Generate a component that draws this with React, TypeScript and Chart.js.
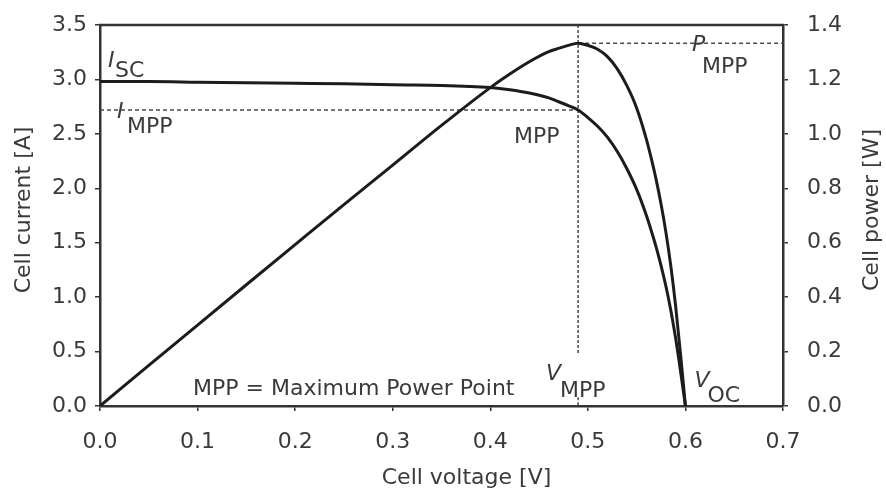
import React, { useEffect, useRef } from "react";
import { Chart, registerables } from "chart.js";

Chart.register(...registerables);

// Cell voltage [V]
const voltage = [0, 0.05, 0.1, 0.15, 0.2, 0.25, 0.3, 0.35, 0.4, 0.42, 0.44, 0.46, 0.47, 0.48, 0.49, 0.5, 0.51, 0.52, 0.53, 0.54, 0.55, 0.56, 0.565, 0.57, 0.575, 0.58, 0.585, 0.59, 0.595, 0.6];
// Cell current [A]
const current = [2.98, 2.98, 2.975, 2.97, 2.965, 2.96, 2.95, 2.945, 2.925, 2.905, 2.875, 2.83, 2.795, 2.76, 2.72, 2.65, 2.57, 2.47, 2.34, 2.18, 1.99, 1.75, 1.61, 1.46, 1.29, 1.1, 0.88, 0.62, 0.32, 0.0];
// Cell power [W]
const power = [0, 0.149, 0.2975, 0.4455, 0.593, 0.74, 0.885, 1.031, 1.17, 1.22, 1.265, 1.302, 1.314, 1.325, 1.333, 1.325, 1.311, 1.284, 1.24, 1.177, 1.095, 0.98, 0.91, 0.832, 0.742, 0.638, 0.515, 0.366, 0.19, 0.0];

// Characteristic points
const vMpp = 0.49;
const iMpp = 2.72;
const pMpp = 1.333;
const iSc = 2.98;
const vOc = 0.6;

const xTicks = [0, 0.1, 0.2, 0.3, 0.4, 0.5, 0.6, 0.7];
const yTicks = [0, 0.5, 1.0, 1.5, 2.0, 2.5, 3.0, 3.5];
const y1Ticks = [0, 0.2, 0.4, 0.6, 0.8, 1.0, 1.2, 1.4];

const FONT = "DejaVu Sans";
const TEXT = "#3a3a3a";
const LINE = "#1c1c1c";

function txt(ctx: CanvasRenderingContext2D, s: string, x: number, y: number, italic = false) {
  ctx.font = `${italic ? "italic " : ""}22px "${FONT}"`;
  ctx.fillText(s, x, y);
}

const annotPlugin = {
  id: "annot",
  beforeDatasetsDraw(chart: any) {
    const { ctx, chartArea, scales } = chart;
    const xs = scales.x, ys = scales.y, y1 = scales.y1;
    const xm = xs.getPixelForValue(vMpp);
    const yi = ys.getPixelForValue(iMpp);
    const yp = y1.getPixelForValue(pMpp);
    ctx.save();
    ctx.strokeStyle = "#4a4a4a";
    ctx.lineWidth = 1.5;
    ctx.setLineDash([4, 3]);
    ctx.beginPath();
    ctx.moveTo(chartArea.left, yi);
    ctx.lineTo(xm, yi);
    ctx.moveTo(xm, yp);
    ctx.lineTo(chartArea.right, yp);
    ctx.stroke();
    ctx.setLineDash([3, 2]);
    ctx.beginPath();
    ctx.moveTo(xm, chartArea.top);
    ctx.lineTo(xm, ys.getPixelForValue(0.47));
    ctx.moveTo(xm, ys.getPixelForValue(0.08));
    ctx.lineTo(xm, chartArea.bottom);
    ctx.stroke();
    ctx.restore();
  },
  afterDraw(chart: any) {
    const { ctx, chartArea, scales } = chart;
    const xs = scales.x, ys = scales.y, y1 = scales.y1;
    const L = chartArea.left, R = chartArea.right, T = chartArea.top, B = chartArea.bottom;
    const xm = xs.getPixelForValue(vMpp);
    const yi = ys.getPixelForValue(iMpp);
    const yp = y1.getPixelForValue(pMpp);
    const ysc = ys.getPixelForValue(iSc);
    const xoc = xs.getPixelForValue(vOc);
    ctx.save();
    // top frame line
    ctx.strokeStyle = "#333";
    ctx.lineWidth = 2.5;
    ctx.beginPath();
    ctx.moveTo(L - 1, T);
    ctx.lineTo(R + 1, T);
    ctx.stroke();

    ctx.fillStyle = TEXT;
    ctx.textAlign = "left";
    ctx.textBaseline = "alphabetic";
    // I_SC
    txt(ctx, "I", L + 8, ysc - 15, true);
    txt(ctx, "SC", L + 15, ysc - 5);
    // I_MPP
    txt(ctx, "I", L + 17, yi + 8, true);
    txt(ctx, "MPP", L + 27, yi + 23);
    // MPP
    txt(ctx, "MPP", xm - 64, yi + 33);
    // P_MPP
    txt(ctx, "P", R - 91, yp + 8, true);
    txt(ctx, "MPP", R - 81, yp + 30);
    // V_MPP
    txt(ctx, "V", xm - 32, B - 26, true);
    txt(ctx, "MPP", xm - 18, B - 9);
    // V_OC
    txt(ctx, "V", xoc + 9, B - 19, true);
    txt(ctx, "OC", xoc + 22, B - 4);
    // legend note
    txt(ctx, "MPP = Maximum Power Point", L + 93, B - 11);

    // axis titles
    ctx.font = `22px "${FONT}"`;
    ctx.textAlign = "center";
    ctx.textBaseline = "middle";
    ctx.fillText("Cell voltage [V]", (L + R) / 2 + 25, 478);
    ctx.save();
    ctx.translate(24, 210);
    ctx.rotate(-Math.PI / 2);
    ctx.fillText("Cell current [A]", 0, 0);
    ctx.restore();
    ctx.save();
    ctx.translate(872, 210);
    ctx.rotate(-Math.PI / 2);
    ctx.fillText("Cell power [W]", 0, 0);
    ctx.restore();
    ctx.restore();
  },
};

export default function App() {
  const ref = useRef<HTMLCanvasElement | null>(null);
  useEffect(() => {
    if (!ref.current) return;
    const tickFont = { family: FONT, size: 22 };
    const border = { color: "#333", width: 2.5 };
    const grid = { drawOnChartArea: false, drawTicks: true, tickLength: 5, color: "#333", lineWidth: 1.5 };
    const chart = new Chart(ref.current, {
      type: "line",
      data: {
        datasets: [
          {
            label: "Cell current",
            data: voltage.map((v, i) => ({ x: v, y: current[i] })),
            yAxisID: "y",
            borderColor: LINE,
            borderWidth: 3,
            pointRadius: 0,
            cubicInterpolationMode: "monotone",
            fill: false,
          },
          {
            label: "Cell power",
            data: voltage.map((v, i) => ({ x: v, y: power[i] })),
            yAxisID: "y1",
            borderColor: LINE,
            borderWidth: 3,
            pointRadius: 0,
            cubicInterpolationMode: "monotone",
            fill: false,
          },
        ],
      },
      options: {
        animation: false,
        responsive: false,
        devicePixelRatio: 1,
        layout: { padding: { top: 25, left: 0, right: 0, bottom: 0 } },
        plugins: { legend: { display: false }, tooltip: { enabled: false } },
        scales: {
          x: {
            type: "linear",
            min: 0,
            max: 0.7,
            border,
            grid,
            afterBuildTicks: (s: any) => { s.ticks = xTicks.map((v) => ({ value: v })); },
            afterFit: (s: any) => { s.height = 84; s.paddingLeft = 0; s.paddingRight = 0; },
            ticks: { font: tickFont, color: TEXT, padding: 18, maxRotation: 0, callback: (v: any) => Number(v).toFixed(1) },
          },
          y: {
            type: "linear",
            position: "left",
            min: 0,
            max: 3.5,
            border,
            grid,
            afterBuildTicks: (s: any) => { s.ticks = yTicks.map((v) => ({ value: v })); },
            afterFit: (s: any) => { s.width = 100; s.paddingTop = 0; s.paddingBottom = 0; },
            ticks: { font: tickFont, color: TEXT, padding: 8, callback: (v: any) => Number(v).toFixed(1) },
          },
          y1: {
            type: "linear",
            position: "right",
            min: 0,
            max: 1.4,
            border,
            grid,
            afterBuildTicks: (s: any) => { s.ticks = y1Ticks.map((v) => ({ value: v })); },
            afterFit: (s: any) => { s.width = 103; s.paddingTop = 0; s.paddingBottom = 0; },
            ticks: { font: tickFont, color: TEXT, padding: 19, callback: (v: any) => Number(v).toFixed(1) },
          },
        },
      } as any,
      plugins: [annotPlugin],
    });
    return () => chart.destroy();
  }, []);
  return (
    <div style={{ position: "fixed", left: 0, top: 0, width: 886, height: 490, background: "#fff" }}>
      <canvas ref={ref} width={886} height={490} style={{ width: 886, height: 490, display: "block" }} />
    </div>
  );
}
